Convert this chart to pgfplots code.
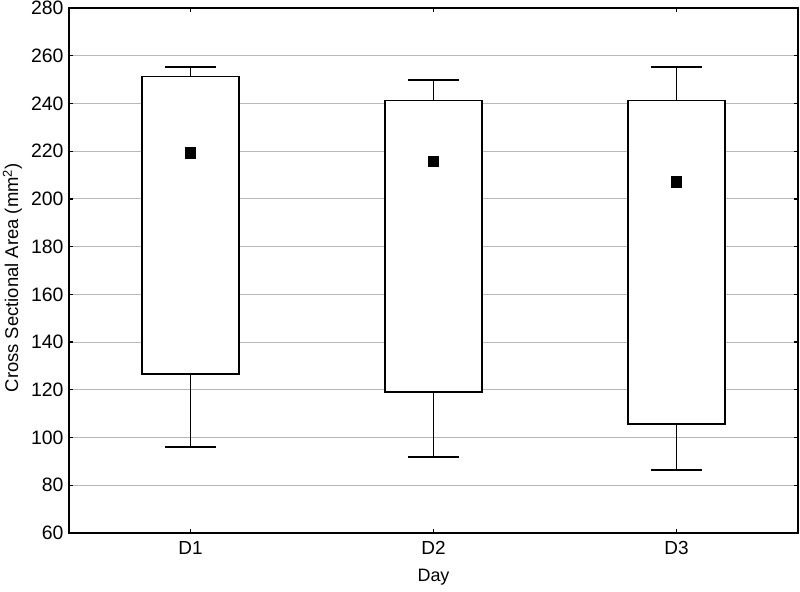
\documentclass[border=0pt]{standalone}
\usepackage{pgfplots}
\pgfplotsset{compat=1.18}
\usetikzlibrary{calc}
\usepackage{fontspec}
\setmainfont{Liberation Sans}
\begin{document}
\begin{tikzpicture}
\begin{axis}[
  width=729bp, height=525bp, scale only axis,
  xmin=0.5, xmax=3.5, ymin=60, ymax=280,
  ytick={60,80,...,280}, xtick={1,2,3}, xticklabels={D1,D2,D3},
  ymajorgrids, grid style={gray!55, line width=1bp},
  tick align=inside, major tick length=4.5bp,
  tick style={black, line width=1.3bp},
  axis line style={line width=1.9bp},
  /pgf/number format/assume math mode=true,
  yticklabel style={font=\fontsize{19.5}{22}\selectfont, xshift=-2bp},
  xticklabel style={font=\fontsize{19}{22}\selectfont, yshift=-5bp},
  xlabel={Day}, ylabel={Cross Sectional Area (mm\textsuperscript{2})},
  xlabel style={font=\fontsize{18}{21}\selectfont, at={(axis description cs:0.5,0)}, anchor=north, yshift=-32.5bp},
  ylabel style={font=\fontsize{18.5}{21}\selectfont, at={(axis description cs:-0.0775,0.486)}, anchor=center},
  unbounded coords=jump,
]
\coordinate (bl) at (rel axis cs:0,0);
\coordinate (tr) at (rel axis cs:1,1);
% D1
\addplot[draw=black, line width=1.9bp, mark=none] coordinates {(1,126.5) (1,96) (nan,nan) (0.897,96) (1.103,96) (nan,nan) (1,251.3) (1,255.2) (nan,nan) (0.897,255.2) (1.103,255.2)};
\addplot[draw=black, fill=white, line width=1.8bp, mark=none] coordinates {(0.8,126.5) (1.2,126.5) (1.2,251.3) (0.8,251.3)} -- cycle;
% D2
\addplot[draw=black, line width=1.9bp, mark=none] coordinates {(2,119) (2,92) (nan,nan) (1.897,92) (2.103,92) (nan,nan) (2,241.2) (2,250) (nan,nan) (1.897,250) (2.103,250)};
\addplot[draw=black, fill=white, line width=1.8bp, mark=none] coordinates {(1.8,119) (2.2,119) (2.2,241.2) (1.8,241.2)} -- cycle;
% D3
\addplot[draw=black, line width=1.9bp, mark=none] coordinates {(3,105.7) (3,86.5) (nan,nan) (2.897,86.5) (3.103,86.5) (nan,nan) (3,241.2) (3,255.2) (nan,nan) (2.897,255.2) (3.103,255.2)};
\addplot[draw=black, fill=white, line width=1.8bp, mark=none] coordinates {(2.8,105.7) (3.2,105.7) (3.2,241.2) (2.8,241.2)} -- cycle;
% means
\addplot[only marks, mark=square*, mark size=5.2bp, line width=0.6bp, black] coordinates {(1,219.4) (2,215.8) (3,207.2)};
\end{axis}
\pgfresetboundingbox
\path ($(bl)+(-69bp,-59bp)$) rectangle ($(tr)+(2bp,8bp)$);
\end{tikzpicture}
\end{document}
